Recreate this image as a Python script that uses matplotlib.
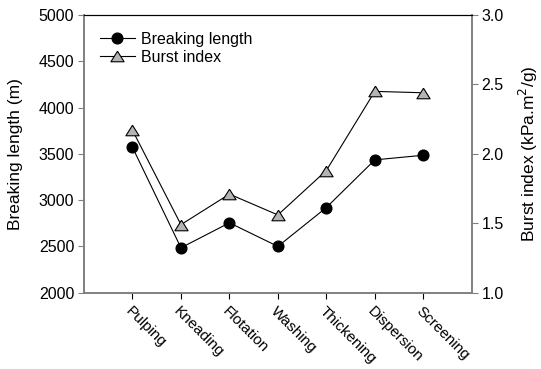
import matplotlib
matplotlib.use("Agg")
import matplotlib.pyplot as plt
from matplotlib.transforms import ScaledTranslation

plt.rcParams["font.family"] = ["Liberation Sans", "DejaVu Sans"]
plt.rcParams["font.size"] = 11.5

stages = ["Pulping", "Kneading", "Flotation", "Washing", "Thickening", "Dispersion", "Screening"]
breaking_length = [3570, 2485, 2755, 2500, 2920, 3435, 3485]
burst_index = [2.17, 1.49, 1.71, 1.56, 1.88, 2.45, 2.44]

xs = list(range(1, len(stages) + 1))
tri = [(0, 0.8), (-1, -0.8), (1, -0.8), (0, 0.8)]

fig = plt.figure(figsize=(5.41, 3.69), dpi=100)
ax = fig.add_axes([0.1553, 0.2068, 0.7167, 0.7525])
ax2 = ax.twinx()

l1, = ax.plot(xs, breaking_length, color="black", lw=0.8, marker="o", ms=7.7,
              mfc="black", mec="black", label="Breaking length")
l2, = ax2.plot(xs, burst_index, color="black", lw=0.8, marker=tri, ms=9.5,
               mfc="#b4b4b4", mec="black", mew=0.8, label="Burst index")

ax.set_xlim(0, 8)
ax.set_ylim(2000, 5000)
ax.set_yticks([2000, 2500, 3000, 3500, 4000, 4500, 5000])
ax2.set_ylim(1.0, 3.0)
ax2.set_yticks([1.0, 1.5, 2.0, 2.5, 3.0])
ax2.set_yticklabels(["1.0", "1.5", "2.0", "2.5", "3.0"])

ax.set_xticks(xs)
ax.set_xticklabels(stages, rotation=-45, ha="left", va="top", rotation_mode="anchor",
                   fontsize=11)
shift = ScaledTranslation(3 / 100, 0, fig.dpi_scale_trans)
for lbl in ax.get_xticklabels():
    lbl.set_transform(lbl.get_transform() + shift)

ax.set_ylabel("Breaking length (m)", fontsize=12.5)
ax2.set_ylabel("Burst index (kPa.m$^2$/g)", fontsize=12.5)
ax.yaxis.set_label_coords(-0.157, 0.5)
ax2.yaxis.set_label_coords(1.117, 0.5)

grey = "#808080"
for a in (ax, ax2):
    for s in ("left", "right", "bottom"):
        a.spines[s].set_color(grey)
        a.spines[s].set_linewidth(1.2)
    a.spines["top"].set_color("black")
    a.spines["top"].set_linewidth(0.8)
ax.tick_params(axis="y", length=4, color=grey, pad=3)
ax2.tick_params(axis="y", length=4, color=grey, pad=3)
ax.tick_params(axis="x", length=4, width=0.8, color="black", pad=4)

ax.legend(handles=[l1, l2], loc="upper left", frameon=False, handlelength=2.2,
          labelspacing=0.2, handletextpad=0.42, bbox_to_anchor=(0.04, 0.94),
          borderaxespad=0.0, borderpad=0.0)

fig.savefig("out.png", dpi=100)
